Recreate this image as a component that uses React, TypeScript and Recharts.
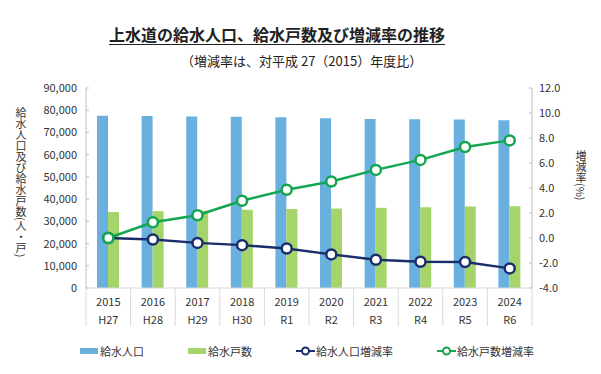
import React from 'react';
import {
  ComposedChart,
  Bar,
  Line,
  XAxis,
  YAxis
} from 'recharts';

const years = ['2015', '2016', '2017', '2018', '2019', '2020', '2021', '2022', '2023', '2024'];
const eras = ['H27', 'H28', 'H29', 'H30', 'R1', 'R2', 'R3', 'R4', 'R5', 'R6'];
const population = [77500, 77420, 77180, 77030, 76800, 76380, 76050, 75900, 75880, 75450];
const households = [34150, 34600, 34800, 35200, 35550, 35750, 36100, 36330, 36680, 36830];
const populationRate = [0, -0.12, -0.39, -0.57, -0.84, -1.31, -1.74, -1.9, -1.92, -2.43];
const householdRate = [0, 1.26, 1.82, 2.98, 3.86, 4.52, 5.45, 6.25, 7.28, 7.81];

const leftTicks = [0, 10000, 20000, 30000, 40000, 50000, 60000, 70000, 80000, 90000];
const rightTicks = [-4, -2, 0, 2, 4, 6, 8, 10, 12];

const BLUE = '#6AB0DF';
const GREEN = '#A5D46A';
const NAVY = '#1C2D6B';
const LINE_GREEN = '#12A650';
const TEXT = '#333';
const FONT = '"Noto Sans CJK JP", "Noto Sans", sans-serif';

const data = years.map((y, i) => ({
  year: y,
  era: eras[i],
  population: population[i],
  households: households[i],
  populationRate: populationRate[i],
  householdRate: householdRate[i]
}));

const LeftTick = ({ x, y, payload }) => (
  <g>
    <line x1={x} x2={x + 3} y1={y} y2={y} stroke="#bfbfbf" />
    <text x={x - 9} y={y + 4} textAnchor="end" fontSize={11} fill={TEXT} fontFamily={FONT}>
      {payload.value.toLocaleString('en-US')}
    </text>
  </g>
);

const RightTick = ({ x, y, payload }) => (
  <g>
    <line x1={x - 3} x2={x} y1={y} y2={y} stroke="#bfbfbf" />
    <text x={x + 7} y={y + 4} textAnchor="start" fontSize={11} fill={TEXT} fontFamily={FONT}>
      {payload.value.toFixed(1)}
    </text>
  </g>
);

const XTick = ({ x, y, payload, index, visibleTicksCount }) => {
  const half = payload.offset || 22.3;
  const row = data[index] || {};
  return (
    <g>
      <line x1={x - half} x2={x - half} y1={y} y2={y + 38} stroke="#d9d9d9" />
      {index === visibleTicksCount - 1 && (
        <line x1={x + half} x2={x + half} y1={y} y2={y + 38} stroke="#d9d9d9" />
      )}
      <text x={x} y={y + 18} textAnchor="middle" fontSize={11} fill={TEXT} fontFamily={FONT}>
        {payload.value}
      </text>
      <text x={x} y={y + 36} textAnchor="middle" fontSize={11} fill={TEXT} fontFamily={FONT}>
        {row.era}
      </text>
    </g>
  );
};

const legendItems = [
  { label: '給水人口', type: 'bar', color: BLUE, width: 108 },
  { label: '給水戸数', type: 'bar', color: GREEN, width: 108 },
  { label: '給水人口増減率', type: 'line', color: NAVY, width: 141 },
  { label: '給水戸数増減率', type: 'line', color: LINE_GREEN, width: 150 }
];

const ChartLegend = () => (
  <div style={{
    position: 'absolute', left: 0, top: 343, width: 601, display: 'flex', paddingLeft: 80,
    fontFamily: FONT, fontSize: 11, color: TEXT, boxSizing: 'border-box'
  }}>
    {legendItems.map(item => (
      <div key={item.label} style={{ width: item.width, display: 'flex', alignItems: 'center' }}>
        <svg width={19} height={10} style={{ marginRight: 1 }}>
          {item.type === 'bar' ? (
            <rect x={0} y={2} width={18} height={6} fill={item.color} />
          ) : (
            <g>
              <line x1={0} x2={19} y1={5} y2={5} stroke={item.color} strokeWidth={2} />
              <circle cx={9.5} cy={5} r={3.5} fill="#fff" stroke={item.color} strokeWidth={2} />
            </g>
          )}
        </svg>
        <span>{item.label}</span>
      </div>
    ))}
  </div>
);

export default function App() {
  return (
    <div style={{ position: 'absolute', left: 0, top: 0, width: 601, height: 374, background: '#fff', fontFamily: FONT }}>
      <ComposedChart
        width={601}
        height={374}
        data={data}
        margin={{ top: 88, right: 0, bottom: 46, left: 0 }}
        barGap={0}
        style={{ position: 'absolute', left: 0, top: 0 }}
      >
        <XAxis
          dataKey="year"
          height={40}
          tickSize={0}
          tickMargin={0}
          axisLine={{ stroke: '#d9d9d9' }}
          tick={XTick}
          interval={0}
        />
        <YAxis
          yAxisId="left"
          orientation="left"
          width={86}
          domain={[0, 90000]}
          ticks={leftTicks}
          tickSize={0}
          tickMargin={0}
          axisLine={{ stroke: '#bfbfbf' }}
          tick={LeftTick}
          interval={0}
        />
        <YAxis
          yAxisId="right"
          orientation="right"
          width={69}
          domain={[-4, 12]}
          ticks={rightTicks}
          tickSize={0}
          tickMargin={0}
          axisLine={{ stroke: '#bfbfbf' }}
          tick={RightTick}
          interval={0}
        />
        <Bar yAxisId="left" dataKey="population" name="給水人口" fill={BLUE} barSize={11} isAnimationActive={false} />
        <Bar yAxisId="left" dataKey="households" name="給水戸数" fill={GREEN} barSize={11} isAnimationActive={false} />
        <Line
          yAxisId="right"
          dataKey="populationRate"
          name="給水人口増減率"
          stroke={NAVY}
          strokeWidth={2.5}
          dot={{ r: 5, fill: '#fff', stroke: NAVY, strokeWidth: 2.5 }}
          isAnimationActive={false}
        />
        <Line
          yAxisId="right"
          dataKey="householdRate"
          name="給水戸数増減率"
          stroke={LINE_GREEN}
          strokeWidth={2.5}
          dot={{ r: 5, fill: '#fff', stroke: LINE_GREEN, strokeWidth: 2.5 }}
          isAnimationActive={false}
        />
      </ComposedChart>
      <div style={{
        position: 'absolute', left: 109, top: 24, fontSize: 16, fontWeight: 'bold', lineHeight: '20px',
        color: '#222', textDecoration: 'underline', textUnderlineOffset: 3, whiteSpace: 'nowrap'
      }}>
        上水道の給水人口、給水戸数及び増減率の推移
      </div>
      <div style={{ position: 'absolute', left: 181, top: 52, fontSize: 13, lineHeight: '18px', color: '#222', whiteSpace: 'nowrap' }}>
        （増減率は、対平成 27（2015）年度比）
      </div>
      <div style={{
        position: 'absolute', left: 14, top: 107, writingMode: 'vertical-rl', fontSize: 11,
        lineHeight: '13px', color: TEXT, whiteSpace: 'nowrap'
      }}>
        給水人口及び給水戸数(人・戸)
      </div>
      <div style={{
        position: 'absolute', left: 574, top: 150, writingMode: 'vertical-rl', fontSize: 11,
        lineHeight: '13px', color: TEXT, whiteSpace: 'nowrap'
      }}>
        増減率(%)
      </div>
      <ChartLegend />
    </div>
  );
}
